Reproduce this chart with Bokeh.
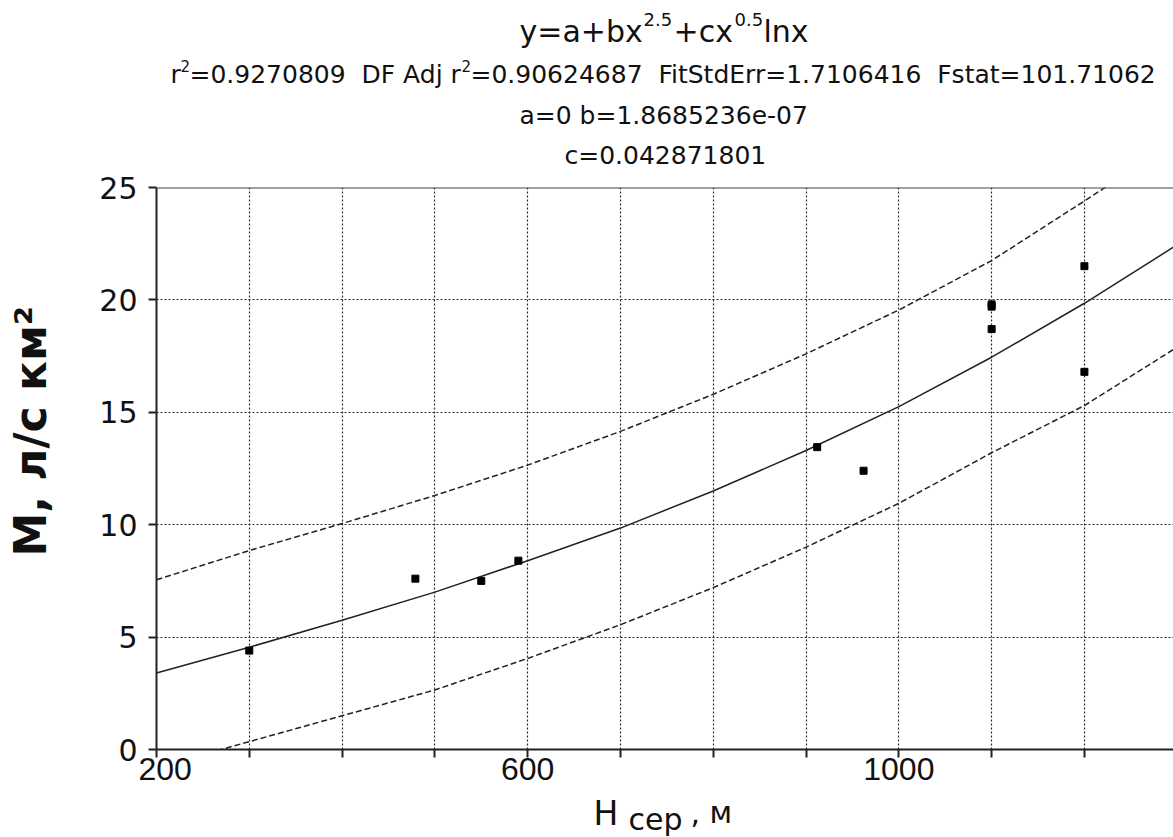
from bokeh.plotting import figure
from bokeh.layouts import column, row
from bokeh.models import Label, Span, FixedTicker, Range1d
from bokeh.embed import file_html
from bokeh.resources import INLINE

# Observed stations: mean catchment height H (m) and specific runoff M (l/s km2)
h_mean = [300, 479, 550, 590, 912, 962, 1100, 1100, 1100, 1200, 1200]
m_runoff = [4.4, 7.6, 7.5, 8.4, 13.45, 12.4, 19.8, 19.7, 18.7, 21.5, 16.8]

# Fitted curve and its prediction band, sampled along H
curve_h = [200, 300, 400, 500, 600, 700, 800, 900, 1000, 1100, 1200, 1300]
fit_m = [3.4, 4.55, 5.75, 7.0, 8.4, 9.85, 11.5, 13.3, 15.25, 17.45, 19.85, 22.45]
upper_m = [7.55, 8.85, 10.05, 11.3, 12.65, 14.15, 15.8, 17.6, 19.55, 21.75, 24.4, 27.1]
lower_m = [-0.8, 0.35, 1.5, 2.65, 4.05, 5.55, 7.2, 9.0, 10.95, 13.2, 15.3, 17.9]

x_ticks = [200, 300, 400, 500, 600, 700, 800, 900, 1000, 1100, 1200, 1300]
x_tick_labels = {200: "200", 600: "600", 1000: "1000"}
y_ticks = [0, 5, 10, 15, 20, 25]

# page geometry (pixels)
W, H = 1173, 837
YLAB_W = 60           # column with the rotated y axis title
YTK_RIGHT = 138       # right edge of the y tick-label column
HEAD_H = 172          # strip with the equation and fit statistics
FOOT_TOP = 794        # strip with the x axis title starts here
FRAME_LEFT, FRAME_TOP, FRAME_BOTTOM = 156, 187, 749
INSET = FRAME_LEFT - YTK_RIGHT   # room for the y axis ticks

ink = "#222222"
txt_col = "#111111"
NB2 = "\u00a0\u00a0"  # double gap between statistics

m_range = Range1d(0, 25)


def blank(width, height, x0, x1, y0, y1, **borders):
    opts = dict(min_border=0)
    opts.update(borders)
    f = figure(width=width, height=height, x_range=Range1d(x0, x1), y_range=Range1d(y0, y1),
               x_axis_type=None, y_axis_type=None, output_backend="svg",
               toolbar_location=None, **opts)
    f.outline_line_color = None
    f.background_fill_color = "white"
    f.border_fill_color = "white"
    return f


def put(f, txt, X, Y, size, font="DejaVu Sans", style="normal", angle=0.0,
        baseline="alphabetic"):
    f.add_layout(Label(x=X, y=Y, text=txt, text_font=font, text_font_size=f"{size}px",
                       text_font_style=style, text_align="left", text_baseline=baseline,
                       angle=angle, text_color=txt_col))


# ---- rotated y axis title, reading upward from its lower end
ylab = blank(YLAB_W, H, 0, YLAB_W, FRAME_BOTTOM, FRAME_TOP,
             min_border_top=FRAME_TOP, min_border_bottom=H - FRAME_BOTTOM)
put(ylab, "М, л/с км²", 30, 556, 44, style="bold", angle=1.5708, baseline="middle")

# ---- y tick labels, placed by the same M scale as the chart
ytk = figure(width=YTK_RIGHT - YLAB_W, height=H, x_range=Range1d(0, 1), y_range=m_range,
             x_axis_type=None, output_backend="svg", toolbar_location=None,
             min_border_left=YTK_RIGHT - YLAB_W - 1, min_border_right=0,
             min_border_top=FRAME_TOP, min_border_bottom=H - FRAME_BOTTOM)
ytk.outline_line_color = None
ytk.grid.visible = False
ytk.yaxis.ticker = FixedTicker(ticks=y_ticks, minor_ticks=[])
ytk.yaxis.axis_line_color = None
ytk.yaxis.major_tick_line_color = None
ytk.yaxis.minor_tick_line_color = None
ytk.yaxis.major_tick_out = 0
ytk.yaxis.major_tick_in = 0
ytk.yaxis.major_label_standoff = 0
ytk.yaxis.major_label_text_font = "DejaVu Sans"
ytk.yaxis.major_label_text_font_size = "30px"
ytk.yaxis.major_label_text_color = txt_col

# ---- heading: equation and fit statistics (y measured downward in pixels)
head = blank(W - YTK_RIGHT, HEAD_H, FRAME_LEFT, W, HEAD_H, 0,
             min_border_left=INSET, min_border_right=0)
put(head, "y=a+bx", 519, 31, 30)
put(head, "2.5", 643, 19, 18)
put(head, "+cx", 673, 31, 30)
put(head, "0.5", 734, 19, 18)
put(head, "lnx", 763, 31, 30)

put(head, "r", 170, 74, 25)
put(head, "2", 180, 65, 15)
put(head, "=0.9270809" + NB2 + "DF Adj r", 189, 74, 25)
put(head, "2", 461, 65, 15)
put(head, "=0.90624687" + NB2 + "FitStdErr=1.7106416" + NB2 + "Fstat=101.71062", 470, 74, 25)

put(head, "a=0 b=1.8685236e-07", 519, 115, 25)
put(head, "c=0.042871801", 564, 155, 25)

# ---- main chart
p = figure(width=W - YTK_RIGHT, height=FOOT_TOP - HEAD_H, x_range=(200, 1296), y_range=m_range,
           output_backend="svg", toolbar_location=None,
           min_border_left=INSET, min_border_right=0,
           min_border_top=FRAME_TOP - HEAD_H, min_border_bottom=FOOT_TOP - FRAME_BOTTOM)
p.outline_line_color = None
p.background_fill_color = "white"
p.border_fill_color = "white"

for ax in (p.xaxis, p.yaxis):
    ax.axis_line_width = 2
    ax.axis_line_color = ink
    ax.major_tick_line_color = ink
    ax.major_tick_line_width = 2
    ax.major_tick_out = 8
    ax.major_tick_in = 0
    ax.minor_tick_line_color = None
    ax.major_label_text_color = txt_col

p.xaxis.ticker = FixedTicker(ticks=x_ticks, minor_ticks=[])
p.xaxis.major_label_overrides = {t: x_tick_labels.get(t, "") for t in x_ticks}
p.xaxis.major_label_text_font = "Liberation Sans"
p.xaxis.major_label_text_font_size = "32px"
p.xaxis.major_label_standoff = 0

# y tick labels are drawn in the column to the left
p.yaxis.ticker = FixedTicker(ticks=y_ticks, minor_ticks=[])
p.yaxis.major_label_overrides = {t: "" for t in y_ticks}
p.yaxis.major_label_standoff = 0

# dotted grid
p.xgrid.ticker = FixedTicker(ticks=x_ticks[1:], minor_ticks=[])
p.ygrid.ticker = FixedTicker(ticks=y_ticks[1:-1], minor_ticks=[])
for g in (p.xgrid, p.ygrid):
    g.grid_line_color = "#2a2a2a"
    g.grid_line_dash = "2 2"
    g.grid_line_width = 1.2

# top frame edge
p.add_layout(Span(location=25, dimension="width", line_color="#444444", line_width=2))

# curves
p.line(curve_h, upper_m, line_color=ink, line_width=1.5, line_dash="6 3")
p.line(curve_h, lower_m, line_color=ink, line_width=1.5, line_dash="6 3")
p.line(curve_h, fit_m, line_color=ink, line_width=1.5)

# observations
p.scatter(h_mean, m_runoff, marker="square", size=7, fill_color="black", line_color="black")

# ---- x axis title: H with subscript "сер", unit м
foot = blank(W - YTK_RIGHT, H - FOOT_TOP, FRAME_LEFT, W, H, FOOT_TOP,
             min_border_left=INSET, min_border_right=0)
put(foot, "Н", 593, 813, 33)
put(foot, "сер", 628, 819, 30)
put(foot, ", м", 690, 812, 30)

layout = row(ylab, ytk, column(head, p, foot))
open("out.html", "w").write(file_html(layout, INLINE))
